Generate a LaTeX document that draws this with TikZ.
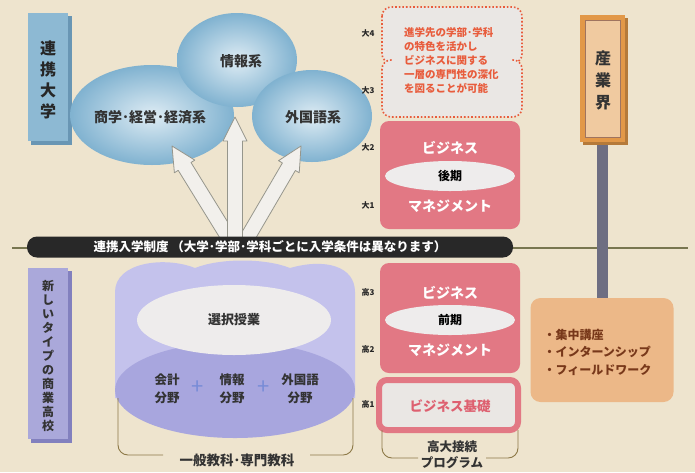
\documentclass[tikz,border=0pt]{standalone}
\usepackage{fontspec}
\setmainfont{Noto Sans CJK JP}
\usetikzlibrary{calc,shapes.geometric}
\definecolor{bg}{RGB}{238,228,206}
\definecolor{bluebox}{RGB}{141,185,211}
\definecolor{blueboxd}{RGB}{105,150,180}
\definecolor{blueL}{RGB}{222,236,244}
\definecolor{blueD}{RGB}{128,178,208}
\definecolor{lavbox}{RGB}{170,168,218}
\definecolor{lavboxd}{RGB}{130,128,190}
\definecolor{lavL}{RGB}{196,194,236}
\definecolor{lavD}{RGB}{168,166,222}
\definecolor{plusc}{RGB}{120,140,215}
\definecolor{pinkbox}{RGB}{226,120,132}
\definecolor{pinktxt}{RGB}{222,96,112}
\definecolor{ovalw}{RGB}{238,236,236}
\definecolor{dotred}{RGB}{232,92,60}
\definecolor{dotfill}{RGB}{234,231,228}
\definecolor{orgbox}{RGB}{236,184,136}
\definecolor{orgtxt}{RGB}{120,56,26}
\definecolor{orgedge}{RGB}{226,152,72}
\definecolor{orgin}{RGB}{240,202,160}
\definecolor{pole}{RGB}{110,110,130}
\definecolor{olive}{RGB}{120,118,80}
\definecolor{brack}{RGB}{140,120,70}
\definecolor{arrfill}{RGB}{242,240,236}
\definecolor{arredge}{RGB}{150,150,140}
\definecolor{barblk}{RGB}{40,40,40}
\tikzset{
  blueov/.style={ellipse, inner sep=0pt, shading=radial, inner color=blueL, outer color=blueD},
  pinkrect/.style={fill=pinkbox, rounded corners=9pt},
  whiteov/.style={ellipse, fill=ovalw, inner sep=0pt, minimum width=130pt, minimum height=30pt, font=\fontsize{12}{14}\selectfont\bfseries},
  pinklabel/.style={text=white, font=\fontsize{14}{16}\selectfont\bfseries},
  yearlbl/.style={font=\fontsize{8}{9}\selectfont\bfseries, text=black!85},
  brk/.style={draw=brack, line width=0.9pt, rounded corners=10pt},
  arrowsty/.style={fill=arrfill, draw=arredge, line width=0.8pt, line join=round},
  plussign/.style={text=plusc, inner sep=0pt, font=\fontsize{22}{22}\selectfont},
  fieldtxt/.style={align=center, inner sep=1pt, font=\fontsize{12.5}{17.5}\selectfont\bfseries, text=black!80},
}
\newcommand\fatarr[2]{%
  \coordinate (#2h) at ($(#2)!24pt!(#1)$);
  \path[arrowsty] ($(#1)!7.5pt!90:(#2)$) -- ($(#2h)!7.5pt!-90:(#1)$) -- ($(#2h)!12pt!-90:(#1)$) -- (#2) -- ($(#2h)!12pt!90:(#1)$) -- ($(#2h)!7.5pt!90:(#1)$) -- ($(#1)!7.5pt!-90:(#2)$) -- cycle;
}
\begin{document}
\begin{tikzpicture}[x=1pt,y=-1pt, font=\bfseries]
\useasboundingbox[fill=bg] (0,0) rectangle (695,472);

% horizontal line
\coordinate (hl) at (12,248);
\coordinate (hr) at (688,248);
\draw[olive, line width=2.5pt] (hl) -- (hr);

% left side boxes
\fill[blueboxd] (31,16) rectangle (72,145);
\fill[bluebox] (28,13) rectangle (68,141);
\node[font=\fontsize{16}{21}\selectfont\bfseries, align=center, text=black!85] (renkei) at (48,80) {連\\携\\大\\学};

\fill[lavboxd] (31,271) rectangle (72,443);
\fill[lavbox] (28,268) rectangle (68,439);
\node[font=\fontsize{12}{14}\selectfont\bfseries, align=center, text=black!80] (koukou) at (48,356) {新\\し\\い\\タ\\イ\\プ\\の\\商\\業\\高\\校};

% blue ellipses
\node[blueov, minimum width=164pt, minimum height=100pt] (shogaku) at (152,115) {};
\node[blueov, minimum width=120pt, minimum height=94pt] (joho) at (237,60) {};
\node[blueov, minimum width=120pt, minimum height=92pt] (gaikoku) at (312,116) {};
\node[font=\fontsize{14}{16}\selectfont\bfseries, text=black!80] at (150,117) {商学･経営･経済系};
\node[font=\fontsize{14}{16}\selectfont\bfseries, text=black!80] at (241,61) {情報系};
\node[font=\fontsize{14}{16}\selectfont\bfseries, text=black!80] at (313,117) {外国語系};

% arrows
\coordinate (bL) at (230,240);
\coordinate (tL) at (172,146);
\coordinate (bC) at (235,240);
\coordinate (tC) at (235,117);
\coordinate (bR) at (246,240);
\coordinate (tR) at (301,146);
\fatarr{bL}{tL}
\fatarr{bR}{tR}
\fatarr{bC}{tC}

% black bar
\node[fill=barblk, rounded corners=10pt, minimum width=486pt, minimum height=21pt, text=white, font=\fontsize{12.5}{14}\selectfont\bfseries] (bar) at (270,247) {連携入学制度 （大学･学部･学科ごとに入学条件は異なります）};

% dotted box
\draw[dotred, dotted, line width=1.6pt, fill=dotfill, rounded corners=9pt] (382,7) rectangle (522,63);
\draw[dotred, dotted, line width=1.6pt, fill=dotfill, rounded corners=9pt] (382,60) rectangle (522,117);
\fill[dotfill] (392,52) rectangle (512,70);
\node[anchor=north west, align=left, text=dotred, font=\fontsize{10.5}{14}\selectfont\bfseries, inner sep=0pt] (dottxt) at (404,27) {進学先の学部･学科\\の特色を活かし\\ビジネスに関する\\一層の専門性の深化\\を図ることが可能};

% university pink box
\fill[pinkrect] (380,121) rectangle (520,229);
\node[pinklabel] (ub) at (450,148) {ビジネス};
\node[whiteov] (kouki) at (450,176) {後期};
\node[pinklabel] (um) at (450,206) {マネジメント};

% high school pink box
\fill[pinkrect] (380,263) rectangle (520,373);
\node[pinklabel] (hb) at (450,293) {ビジネス};
\node[whiteov] (zenki) at (450,320) {前期};
\node[pinklabel] (hm) at (450,350) {マネジメント};

% business kiso box
\draw[draw=pinkbox, line width=6pt, fill=dotfill, rounded corners=8pt] (379,380) rectangle (518,430);
\node[text=pinktxt, font=\fontsize{13.5}{15}\selectfont\bfseries] (kiso) at (450,406) {ビジネス基礎};

% year labels
\node[yearlbl] at (368,33) {大4};
\node[yearlbl] at (368,90) {大3};
\node[yearlbl] at (368,147) {大2};
\node[yearlbl] at (368,205) {大1};
\node[yearlbl] at (368,292) {高3};
\node[yearlbl] at (368,349) {高2};
\node[yearlbl] at (368,404) {高1};

% industry
\fill[pole] (597,140) rectangle (608,300);
\fill[orgedge!80!black] (583,18) rectangle (628,145);
\fill[orgedge] (580,15) rectangle (625,142);
\fill[orgin] (585,20) rectangle (620,137);
\draw[orgtxt!70, line width=0.5pt] (585,20) rectangle (620,137);
\node[font=\fontsize{16}{22}\selectfont\bfseries, align=center, text=black!80] (sangyo) at (603,80) {産\\業\\界};

\node[fill=orgbox, rounded corners=10pt, minimum width=143pt, minimum height=104pt] (orange) at (602,350) {};
\node[anchor=west, align=left, text=orgtxt, font=\fontsize{12}{17.5}\selectfont\bfseries] (orgtext) at (540,352) {・集中講座\\・インターンシップ\\・フィールドワーク};

% lavender cloud
\fill[lavL] (115,398) -- (115,292) .. controls (115,262) and (165,256) .. (195,268) .. controls (220,258) and (265,258) .. (290,268) .. controls (325,258) and (355,266) .. (355,292) -- (355,398) -- cycle;
\fill[lavD] (235,390) ellipse [x radius=120pt, y radius=48pt];
\node[ellipse, fill=ovalw, minimum width=194pt, minimum height=70pt, inner sep=0pt, font=\fontsize{13}{15}\selectfont\bfseries, text=black!80] (sentaku) at (234,320) {選択授業};
\node[fieldtxt] (kaikei) at (167,389) {会計\\分野};
\node[plussign] (p1) at (198,388) {+};
\node[fieldtxt] (johob) at (232,389) {情報\\分野};
\node[plussign] (p2) at (264,388) {+};
\node[fieldtxt] (gaib) at (300,389) {外国語\\分野};

% brackets
\node[font=\fontsize{13.5}{15}\selectfont\bfseries, text=black!80] (ippan) at (237,460) {一般教科･専門教科};
\coordinate (b1a) at (118,398);
\coordinate (b1b) at (163,455);
\coordinate (b1c) at (310,455);
\coordinate (b1d) at (353,398);
\draw[brk] (b1a) -- (118,455) -- (b1b);
\draw[brk] (b1c) -- (353,455) -- (b1d);

\node[align=center, font=\fontsize{12.5}{15.5}\selectfont\bfseries, text=black!80] (kodai) at (452,455) {高大接続\\プログラム};
\coordinate (b2a) at (382,430);
\coordinate (b2b) at (418,458);
\coordinate (b2c) at (486,458);
\coordinate (b2d) at (518,430);
\draw[brk] (b2a) -- (382,458) -- (b2b);
\draw[brk] (b2c) -- (518,458) -- (b2d);
\end{tikzpicture}
\end{document}
